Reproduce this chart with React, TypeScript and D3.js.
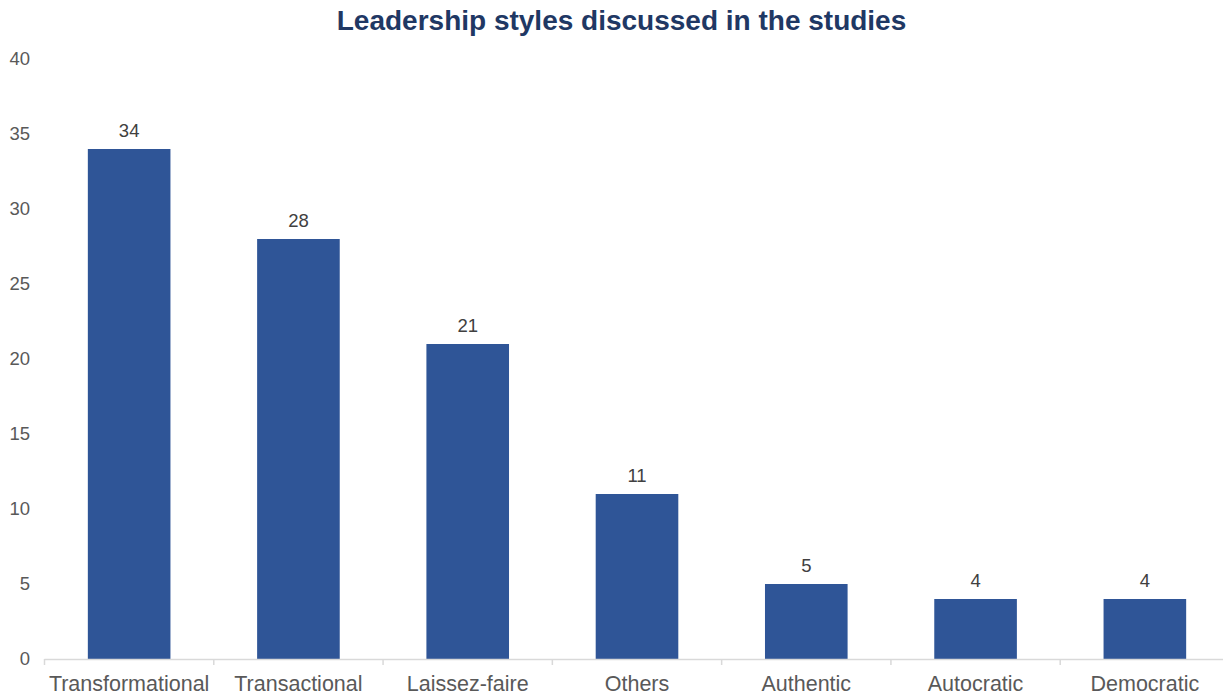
import React from "react";
import * as d3 from "d3";

const categories = ["Transformational", "Transactional", "Laissez-faire", "Others", "Authentic", "Autocratic", "Democratic"];
const values = [34, 28, 21, 11, 5, 4, 4];
const yTicks = [0, 5, 10, 15, 20, 25, 30, 35, 40];
const title = "Leadership styles discussed in the studies";

export default function App() {
  const W = 1223, H = 695;
  const x0 = 44.5, x1 = 1229.5;
  const x = d3.scaleBand<string>().domain(categories).range([x0, x1]).paddingInner(0.512).paddingOuter(0.256);
  const y = d3.scaleLinear().domain([0, 40]).range([659, 59]);
  const step = x.step();
  const font = "'Liberation Sans', Arial, sans-serif";
  const boundaries = d3.range(categories.length + 1).map((i) => x0 + i * step);
  return (
    <svg width={W} height={H} style={{ position: "absolute", left: 0, top: 0, background: "#fff" }} fontFamily={font}>
      <text x={621.5} y={30} textAnchor="middle" fontSize={28} fontWeight="bold" fill="#1F3864">{title}</text>
      {yTicks.map((t) => (
        <text key={t} x={30} y={y(t) + 6} textAnchor="end" fontSize={18.5} fill="#595959">{t}</text>
      ))}
      {categories.map((c, i) => (
        <g key={c}>
          <rect x={x(c)} y={y(values[i])} width={x.bandwidth()} height={y(0) - y(values[i])} fill="#2F5597" />
          <text x={(x(c) as number) + x.bandwidth() / 2} y={y(values[i]) - 12} textAnchor="middle" fontSize={18.5} fill="#404040">{values[i]}</text>
          <text x={(x(c) as number) + x.bandwidth() / 2} y={691} textAnchor="middle" fontSize={21.5} fill="#595959">{c}</text>
        </g>
      ))}
      <line x1={x0} x2={x1} y1={y(0) + 0.5} y2={y(0) + 0.5} stroke="#D9D9D9" strokeWidth={1.5} />
      {boundaries.map((b, i) => (
        <line key={i} x1={b} x2={b} y1={y(0)} y2={y(0) + 6} stroke="#D9D9D9" strokeWidth={1.5} />
      ))}
    </svg>
  );
}
